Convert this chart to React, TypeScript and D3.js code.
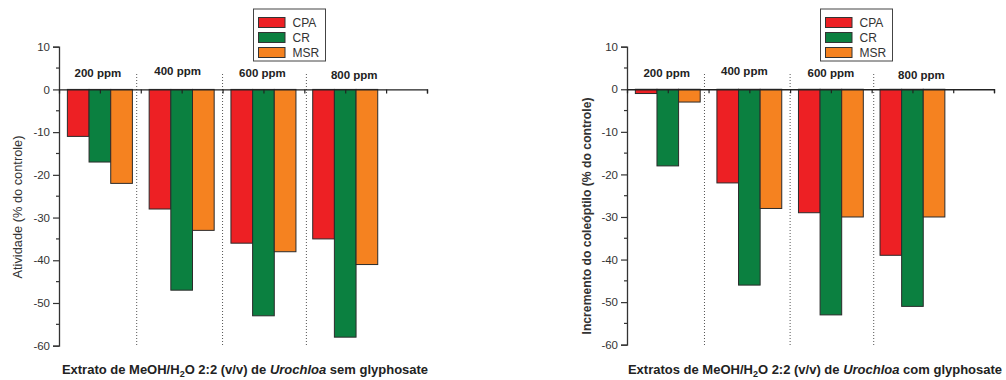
import React, { useEffect, useRef } from "react";
import * as d3 from "d3";

const groups = ["200 ppm", "400 ppm", "600 ppm", "800 ppm"];
const series = ["CPA", "CR", "MSR"];
const colors = ["#ED2024", "#0B8040", "#F58220"];
// values per group: [CPA, CR, MSR]
const semValues = [
  [-11, -17, -22],
  [-28, -47, -33],
  [-36, -53, -38],
  [-35, -58, -41],
];
const comValues = [
  [-1, -18, -3],
  [-22, -46, -28],
  [-29, -53, -30],
  [-39, -51, -30],
];
const yTicks = [10, 0, -10, -20, -30, -40, -50, -60];
const groupCenters = [1, 3, 5, 7];
const separators = [1.9, 4.0, 6.05];

const font = "'Liberation Sans', Arial, sans-serif";

type ChartProps = {
  id: string;
  left: number;
  top: number;
  bottom: number;
  right: number;
  values: number[][];
  yLabel: string;
  yLabelBold: boolean;
  yLabelSize: number;
  yLabelX: number;
  yLabelY: number;
  xTitle: [string, string, string];
  xTitleX: number;
  labelDx: number[];
  labelDy: number[];
  legendX: number;
};

const Chart = ({ id, left, top, bottom, right, values, yLabel, yLabelBold, yLabelSize, yLabelX, yLabelY, xTitle, xTitleX, labelDx, labelDy, legendX }: ChartProps) => {
  const ref = useRef<SVGGElement>(null);

  useEffect(() => {
    const g = d3.select(ref.current);
    g.selectAll("*").remove();

    const y = d3.scaleLinear().domain([10, -60]).range([top, bottom]);
    const x = d3.scaleLinear().domain([0, 9]).range([left, right]);
    const barW = x(0.53) - x(0);

    // dotted separators between concentrations
    g.selectAll(".sep")
      .data(separators)
      .enter()
      .append("line")
      .attr("x1", (d) => x(d))
      .attr("x2", (d) => x(d))
      .attr("y1", 74)
      .attr("y2", bottom + 1)
      .attr("stroke", "#555")
      .attr("stroke-width", 1)
      .attr("stroke-dasharray", "1,2");

    // bars
    values.forEach((vals, gi) => {
      vals.forEach((v, si) => {
        const x0 = x(groupCenters[gi]) - 1.5 * barW + si * barW;
        g.append("rect")
          .attr("x", x0)
          .attr("y", y(0))
          .attr("width", barW)
          .attr("height", y(v) - y(0))
          .attr("fill", colors[si])
          .attr("stroke", "#2b2b2b")
          .attr("stroke-width", 1);
      });
    });

    // y axis
    const yAxis = d3
      .axisLeft(y)
      .tickValues(yTicks)
      .tickSize(6)
      .tickFormat((d) => String(d));
    const ya = g.append("g").attr("transform", `translate(${left},0)`).call(yAxis);
    ya.select(".domain").attr("stroke", "#333").attr("stroke-width", 1.3);
    ya.selectAll(".tick line").attr("stroke", "#333").attr("stroke-width", 1.2);
    ya.selectAll("text")
      .attr("font-family", font)
      .attr("font-size", 11.5)
      .attr("fill", "#333")
      .attr("x", -9);

    // minor ticks
    g.selectAll(".minor")
      .data(d3.range(5, -60, -10))
      .enter()
      .append("line")
      .attr("x1", left - 3)
      .attr("x2", left)
      .attr("y1", (d) => y(d))
      .attr("y2", (d) => y(d))
      .attr("stroke", "#333")
      .attr("stroke-width", 1.2);

    // x axis at zero
    const xa = g
      .append("g")
      .attr("transform", `translate(0,${y(0)})`)
      .call(d3.axisBottom(x).tickValues(d3.range(1, 10)).tickSize(4).tickFormat(() => ""));
    xa.select(".domain").attr("stroke", "#222").attr("stroke-width", 1.3);
    xa.selectAll(".tick line").attr("stroke", "#222").attr("stroke-width", 1.2);

    // group labels
    g.selectAll(".glabel")
      .data(groups)
      .enter()
      .append("text")
      .attr("x", (d, i) => x(groupCenters[i]) + labelDx[i])
      .attr("y", (d, i) => 77 + labelDy[i])
      .attr("text-anchor", "middle")
      .attr("font-family", font)
      .attr("font-size", 11.5)
      .attr("font-weight", "bold")
      .attr("fill", "#222")
      .text((d) => d);

    // y label
    g.append("text")
      .attr("transform", `translate(${yLabelX},${yLabelY}) rotate(-90)`)
      .attr("text-anchor", "middle")
      .attr("dominant-baseline", "middle")
      .attr("font-family", font)
      .attr("font-size", yLabelSize)
      .attr("font-weight", yLabelBold ? "bold" : "normal")
      .attr("fill", "#333")
      .text(yLabel);

    // x title
    const t = g
      .append("text")
      .attr("x", xTitleX)
      .attr("y", 374)
      .attr("text-anchor", "middle")
      .attr("font-family", font)
      .attr("font-size", 13)
      .attr("font-weight", "bold")
      .attr("fill", "#222");
    t.append("tspan").text(xTitle[0]);
    t.append("tspan").attr("font-size", 9).attr("dy", 3).text("2");
    t.append("tspan").attr("dy", -3).text("O 2:2 (v/v) de ");
    t.append("tspan").attr("font-style", "italic").text(xTitle[1]);
    t.append("tspan").text(xTitle[2]);

    // legend
    const lg = g.append("g").attr("transform", `translate(${legendX},9)`);
    lg.append("rect")
      .attr("width", 72)
      .attr("height", 52)
      .attr("fill", "white")
      .attr("stroke", "#444")
      .attr("stroke-width", 1);
    series.forEach((s, i) => {
      lg.append("rect")
        .attr("x", 5)
        .attr("y", 8.5 + i * 15)
        .attr("width", 26.5)
        .attr("height", 10)
        .attr("fill", colors[i])
        .attr("stroke", "#333")
        .attr("stroke-width", 1);
      lg.append("text")
        .attr("x", 39)
        .attr("y", 18 + i * 15)
        .attr("font-family", font)
        .attr("font-size", 12)
        .attr("fill", "#333")
        .text(s);
    });
  });

  return <g id={id} ref={ref}></g>;
};

const App = () => {
  return (
    <svg width={1006} height={380} style={{ position: "absolute", left: 0, top: 0, background: "white" }}>
      <Chart
        id="sem"
        left={59}
        top={46.7}
        bottom={345.7}
        right={427}
        values={semValues}
        yLabel="Atividade (% do controle)"
        yLabelBold={false}
        yLabelSize={12.8}
        yLabelX={19}
        yLabelY={207}
        xTitle={["Extrato de MeOH/H", "Urochloa", " sem glyphosate"]}
        xTitleX={245}
        labelDx={[-2, -4, -1, 9]}
        labelDy={[0, -2, 0, 2]}
        legendX={253.5}
      />
      <Chart
        id="com"
        left={627}
        top={46.7}
        bottom={344.7}
        right={994}
        values={comValues}
        yLabel="Incremento do coleóptilo (% do controle)"
        yLabelBold={true}
        yLabelSize={12.2}
        yLabelX={588}
        yLabelY={216}
        xTitle={["Extratos de MeOH/H", "Urochloa", " com glyphosate"]}
        xTitleX={815}
        labelDx={[-1, -5, 0, 9]}
        labelDy={[0, -2, 0, 2]}
        legendX={820.5}
      />
    </svg>
  );
};

export default App;
